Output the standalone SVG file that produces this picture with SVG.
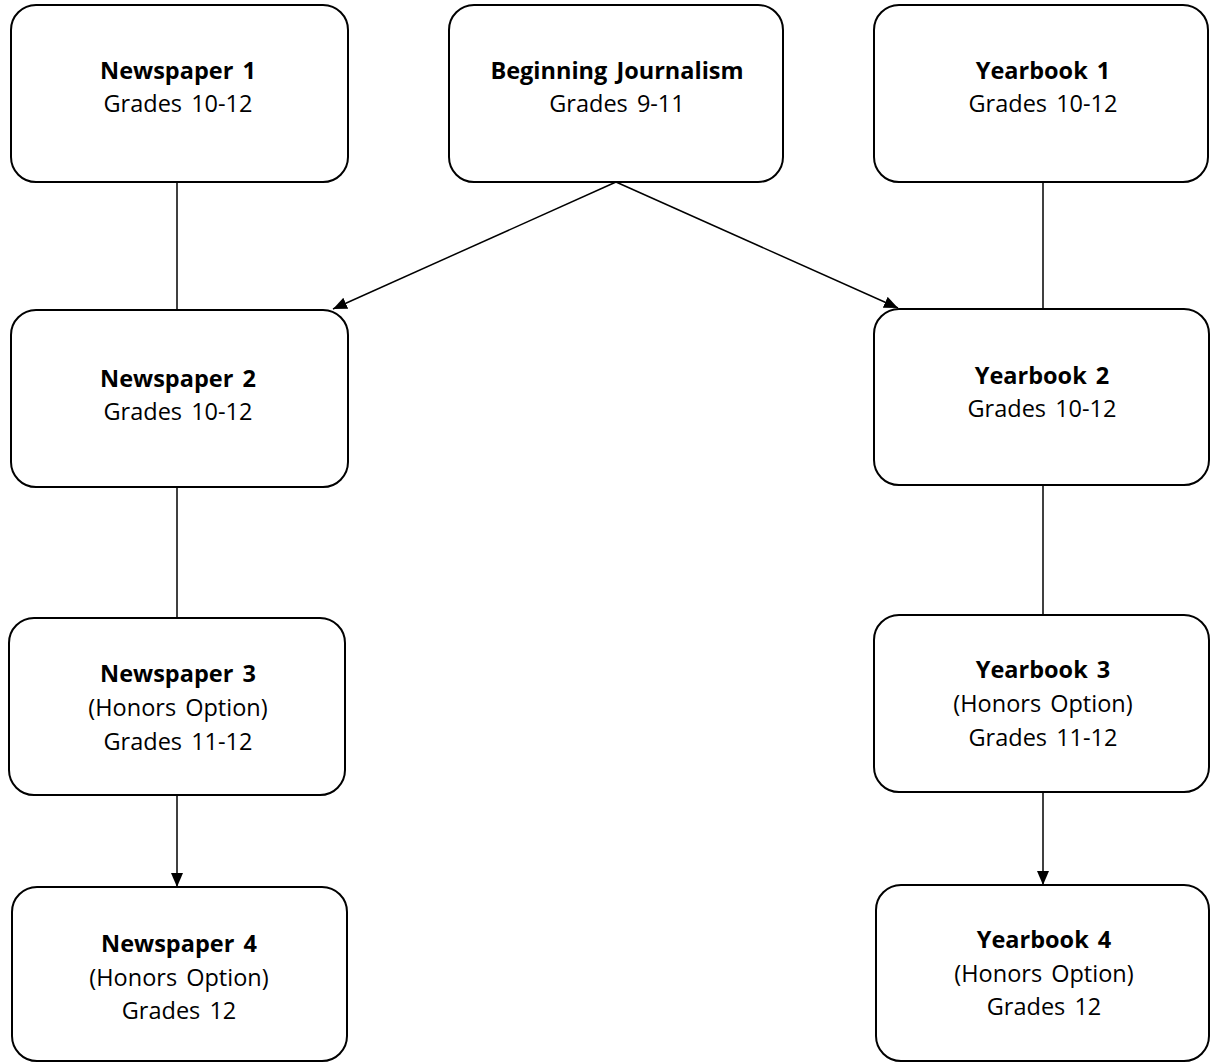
<svg xmlns="http://www.w3.org/2000/svg" width="1210" height="1063" viewBox="0 0 1210 1063">
<defs>
<style>
.box{fill:#fff;stroke:#000;stroke-width:2}
.t{font-family:"Open Sans","Liberation Sans",sans-serif;font-size:23.5px;text-anchor:middle;fill:#000;word-spacing:3px}
.b{font-weight:bold}
.c{stroke:#000;stroke-width:1.5;fill:none}
</style>
<marker id="ah" viewBox="0 0 14 12" refX="14" refY="6" markerWidth="14" markerHeight="12" markerUnits="userSpaceOnUse" orient="auto">
<path d="M0,0 L14,6 L0,12 Z" fill="#000"/>
</marker>
</defs>
<rect width="1210" height="1063" fill="#fff"/>
<g id="connectors">
<line class="c" x1="177" y1="182" x2="177" y2="310"/>
<line class="c" x1="177" y1="487" x2="177" y2="618"/>
<line class="c" x1="177" y1="795" x2="177" y2="887" marker-end="url(#ah)"/>
<line class="c" x1="1043" y1="182" x2="1043" y2="309"/>
<line class="c" x1="1043" y1="485" x2="1043" y2="615"/>
<line class="c" x1="1043" y1="792" x2="1043" y2="885" marker-end="url(#ah)"/>
<line class="c" x1="616" y1="182" x2="333" y2="309" marker-end="url(#ah)"/>
<line class="c" x1="616" y1="182" x2="898" y2="308" marker-end="url(#ah)"/>
</g>
<g id="newspaper1">
<rect class="box" x="11" y="5" width="337" height="177" rx="25"/>
<text class="t b" x="178" y="79">Newspaper 1</text>
<text class="t" x="178" y="112">Grades 10-12</text>
</g>
<g id="beginning-journalism">
<rect class="box" x="449" y="5" width="334" height="177" rx="25"/>
<text class="t b" x="617" y="79">Beginning Journalism</text>
<text class="t" x="617" y="112">Grades 9-11</text>
</g>
<g id="yearbook1">
<rect class="box" x="874" y="5" width="334" height="177" rx="25"/>
<text class="t b" x="1043" y="79">Yearbook 1</text>
<text class="t" x="1043" y="112">Grades 10-12</text>
</g>
<g id="newspaper2">
<rect class="box" x="11" y="310" width="337" height="177" rx="25"/>
<text class="t b" x="178" y="387">Newspaper 2</text>
<text class="t" x="178" y="420">Grades 10-12</text>
</g>
<g id="yearbook2">
<rect class="box" x="874" y="309" width="335" height="176" rx="25"/>
<text class="t b" x="1042" y="384">Yearbook 2</text>
<text class="t" x="1042" y="417">Grades 10-12</text>
</g>
<g id="newspaper3">
<rect class="box" x="9" y="618" width="336" height="177" rx="25"/>
<text class="t b" x="178" y="682">Newspaper 3</text>
<text class="t" x="178" y="716">(Honors Option)</text>
<text class="t" x="178" y="750">Grades 11-12</text>
</g>
<g id="yearbook3">
<rect class="box" x="874" y="615" width="335" height="177" rx="25"/>
<text class="t b" x="1043" y="678">Yearbook 3</text>
<text class="t" x="1043" y="712">(Honors Option)</text>
<text class="t" x="1043" y="746">Grades 11-12</text>
</g>
<g id="newspaper4">
<rect class="box" x="12" y="887" width="335" height="174" rx="25"/>
<text class="t b" x="179" y="952">Newspaper 4</text>
<text class="t" x="179" y="986">(Honors Option)</text>
<text class="t" x="179" y="1019">Grades 12</text>
</g>
<g id="yearbook4">
<rect class="box" x="876" y="885" width="333" height="176" rx="25"/>
<text class="t b" x="1044" y="948">Yearbook 4</text>
<text class="t" x="1044" y="982">(Honors Option)</text>
<text class="t" x="1044" y="1015">Grades 12</text>
</g>
</svg>
